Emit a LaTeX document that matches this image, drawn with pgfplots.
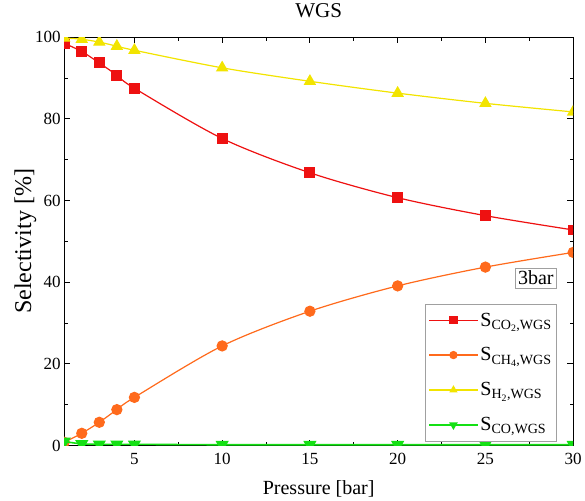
\documentclass[border=0pt]{standalone}
\usepackage{pgfplots}
\pgfplotsset{compat=1.18}
\usepackage{fontspec}
\setmainfont{Liberation Serif}
\definecolor{cRed}{HTML}{EE1111}
\definecolor{cOrange}{HTML}{FF6A1C}
\definecolor{cYellow}{HTML}{F2E400}
\definecolor{cGreen}{HTML}{14E014}
\definecolor{cFrame}{HTML}{A0A0A0}

\pgfplotstableread{
p   sco2  sch4  sh2   sco
1   98.5  0.8   99.8  1.0
2   96.5  3.0   99.5  0.4
3   93.7  5.7   98.8  0.3
4   90.7  8.8   97.8  0.3
5   87.5  11.8  96.8  0.3
10  75.2  24.4  92.5  0.2
15  66.8  32.9  89.2  0.2
20  60.7  39.1  86.3  0.2
25  56.3  43.7  83.8  0.2
30  52.8  47.3  81.7  0.2
}\wgs

\begin{document}
\begin{tikzpicture}
\begin{axis}[
  scale only axis, width=506bp, height=406bp,
  xmin=1, xmax=30, ymin=0, ymax=100,
  xtick={5,10,...,30}, ytick={0,20,...,100},
  minor x tick num=1, minor y tick num=1,
  tick align=inside, major tick length=6bp, minor tick length=3.5bp,
  every tick/.style={black, line width=0.9bp},
  axis line style={line width=1.1bp},
  /pgf/number format/assume math mode=true,
  tick label style={font=\fontsize{17}{17}\selectfont},
  xticklabel style={yshift=-4bp},
  xlabel style={font=\fontsize{20}{20}\selectfont, yshift=-9bp},
  ylabel style={font=\fontsize{24}{24}\selectfont, yshift=-8bp},
  title style={font=\fontsize{21}{21}\selectfont, yshift=10bp},
  title={WGS},
  xlabel={Pressure [bar]}, ylabel={Selectivity [\%]},
  clip marker paths=true,
  legend cell align=left,
  legend style={at={(0.968,0.01)}, anchor=south east, draw=cFrame,
    font=\fontsize{20}{20}\selectfont, row sep=16bp, inner xsep=3bp,
    inner ysep=7bp, nodes={inner sep=2bp}},
  legend image code/.code={\draw[mark repeat=2, mark phase=2]
    plot coordinates {(0bp,0bp) (24bp,0bp) (48bp,0bp)};},
  every legend image post/.style={mark size=3.5bp},
]
\addplot[cRed, line width=1.2bp, smooth, mark=square*, mark size=4.8bp]
  table[x=p, y=sco2] {\wgs};
\addlegendentry{S\textsubscript{CO\textsubscript{2},WGS}}
\addplot[cOrange, line width=1.2bp, smooth, mark=*, mark size=5bp]
  table[x=p, y=sch4] {\wgs};
\addlegendentry{S\textsubscript{CH\textsubscript{4},WGS}}
\addplot[cYellow, line width=1.2bp, smooth, mark=triangle*, mark size=6bp]
  table[x=p, y=sh2] {\wgs};
\addlegendentry{S\textsubscript{H\textsubscript{2},WGS}}
\addplot[cGreen, line width=1.6bp, smooth, mark=triangle*, mark options={rotate=180}, mark size=6bp]
  table[x=p, y=sco] {\wgs};
\addlegendentry{S\textsubscript{CO,WGS}}
\node[draw=cFrame, anchor=north east, font=\fontsize{20}{20}\selectfont, inner sep=3bp]
  at (rel axis cs:0.968,0.436) {3bar};
\end{axis}
% empty room on the left, as in the reference
\path (current bounding box.west) ++(-11bp,0) coordinate (padleft);
\end{tikzpicture}
\end{document}
